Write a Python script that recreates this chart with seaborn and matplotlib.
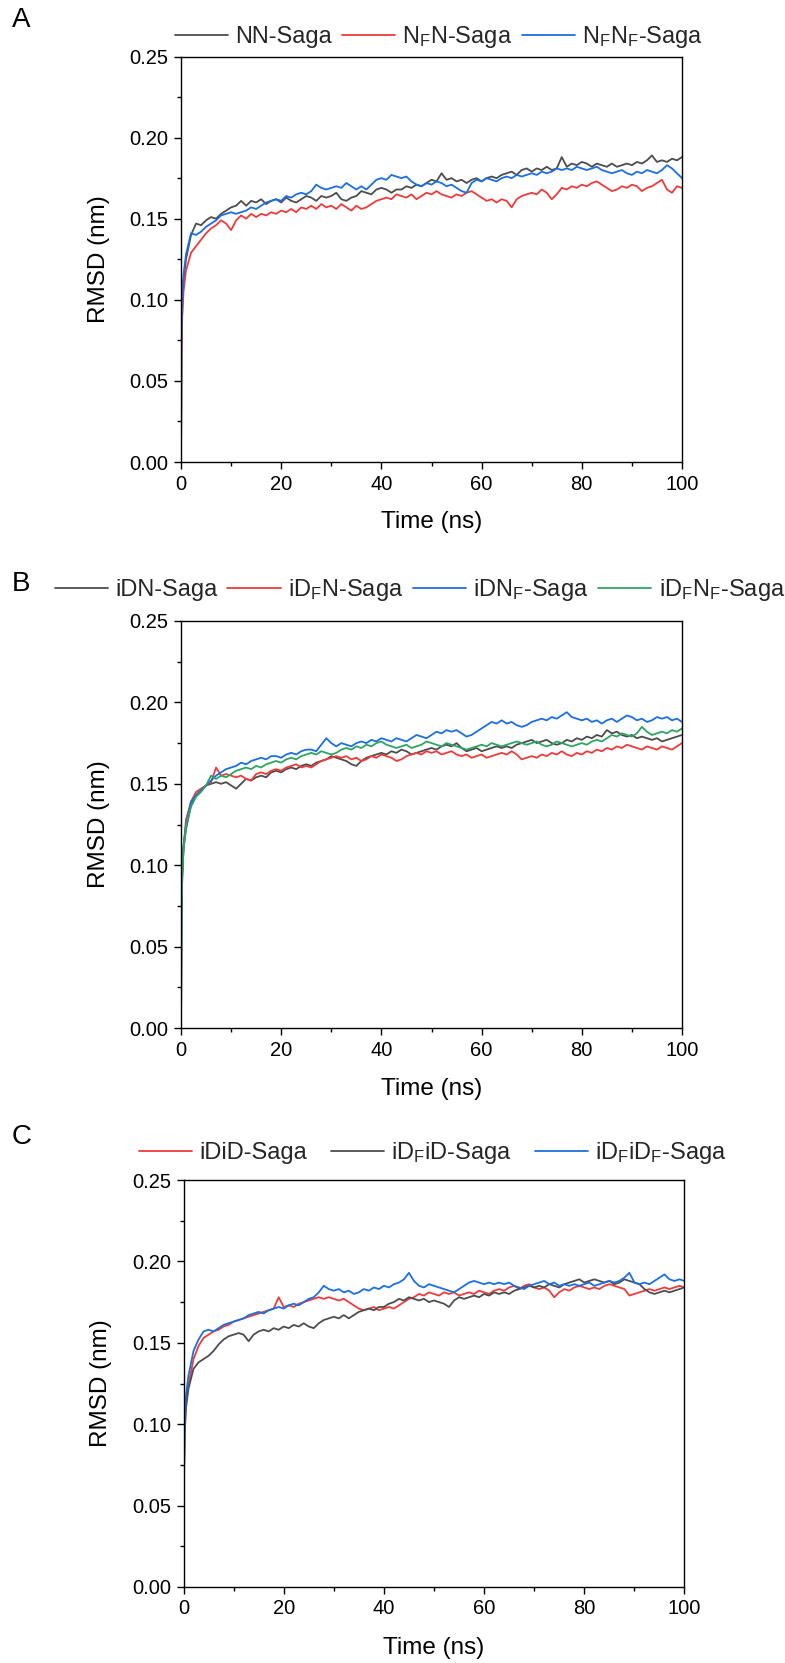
import matplotlib
matplotlib.use("Agg")
import matplotlib.pyplot as plt
import seaborn as sns
import numpy as np

sns.set_theme(style="ticks")
plt.rcParams['font.family'] = ['Liberation Sans', 'DejaVu Sans']
plt.rcParams['mathtext.fontset'] = 'custom'
plt.rcParams['mathtext.rm'] = 'Liberation Sans'
plt.rcParams['mathtext.it'] = 'Liberation Sans:italic'
plt.rcParams['mathtext.bf'] = 'Liberation Sans:bold'

# ---------------- data ----------------
TIME = [0, 0.1, 0.25, 0.5] + list(range(1, 101))

A_NN = [0, 0.070, 0.095, 0.112,
        0.125, 0.140, 0.147, 0.146, 0.149, 0.151, 0.150, 0.153, 0.155, 0.157,
        0.158, 0.161, 0.158, 0.161, 0.160, 0.162, 0.159, 0.161, 0.162, 0.160,
        0.163, 0.161, 0.160, 0.162, 0.164, 0.163, 0.161, 0.164, 0.163, 0.164,
        0.166, 0.162, 0.161, 0.163, 0.164, 0.167, 0.166, 0.165, 0.168, 0.169,
        0.168, 0.166, 0.168, 0.168, 0.170, 0.169, 0.171, 0.170, 0.172, 0.174,
        0.173, 0.178, 0.174, 0.175, 0.173, 0.174, 0.172, 0.174, 0.175, 0.173,
        0.175, 0.176, 0.175, 0.177, 0.178, 0.179, 0.177, 0.180, 0.181, 0.179,
        0.181, 0.180, 0.182, 0.180, 0.181, 0.188, 0.182, 0.184, 0.183, 0.185,
        0.184, 0.182, 0.184, 0.183, 0.182, 0.184, 0.182, 0.183, 0.184, 0.183,
        0.185, 0.184, 0.186, 0.189, 0.185, 0.186, 0.185, 0.187, 0.186, 0.188]
A_NFN = [0, 0.065, 0.090, 0.105,
         0.118, 0.129, 0.133, 0.137, 0.141, 0.144, 0.146, 0.149, 0.147, 0.143,
         0.149, 0.152, 0.150, 0.153, 0.151, 0.153, 0.152, 0.154, 0.153, 0.155,
         0.154, 0.156, 0.154, 0.157, 0.156, 0.158, 0.156, 0.159, 0.157, 0.158,
         0.156, 0.159, 0.157, 0.155, 0.158, 0.156, 0.157, 0.159, 0.161, 0.162,
         0.163, 0.162, 0.165, 0.164, 0.163, 0.165, 0.162, 0.164, 0.166, 0.165,
         0.167, 0.165, 0.164, 0.163, 0.165, 0.164, 0.166, 0.167, 0.165, 0.163,
         0.161, 0.162, 0.160, 0.162, 0.161, 0.157, 0.162, 0.164, 0.165, 0.166,
         0.165, 0.168, 0.166, 0.162, 0.165, 0.169, 0.168, 0.170, 0.169, 0.171,
         0.170, 0.172, 0.173, 0.171, 0.169, 0.167, 0.168, 0.170, 0.169, 0.171,
         0.170, 0.167, 0.169, 0.170, 0.172, 0.174, 0.168, 0.166, 0.170, 0.169]
A_NFNF = [0, 0.075, 0.100, 0.115,
          0.128, 0.141, 0.140, 0.142, 0.145, 0.147, 0.149, 0.152, 0.153, 0.154,
          0.153, 0.154, 0.155, 0.157, 0.156, 0.158, 0.160, 0.161, 0.162, 0.161,
          0.164, 0.163, 0.165, 0.166, 0.165, 0.167, 0.171, 0.169, 0.168, 0.169,
          0.170, 0.169, 0.172, 0.170, 0.168, 0.170, 0.168, 0.171, 0.174, 0.175,
          0.174, 0.177, 0.176, 0.175, 0.176, 0.173, 0.171, 0.170, 0.172, 0.171,
          0.173, 0.172, 0.170, 0.171, 0.169, 0.167, 0.166, 0.172, 0.174, 0.173,
          0.175, 0.174, 0.173, 0.175, 0.176, 0.175, 0.177, 0.176, 0.177, 0.178,
          0.177, 0.179, 0.178, 0.179, 0.181, 0.180, 0.181, 0.180, 0.182, 0.181,
          0.180, 0.181, 0.182, 0.180, 0.179, 0.178, 0.179, 0.180, 0.178, 0.177,
          0.179, 0.178, 0.180, 0.179, 0.178, 0.180, 0.183, 0.181, 0.178, 0.175]

B_iDN = [0, 0.070, 0.095, 0.110,
         0.122, 0.137, 0.143, 0.146, 0.149, 0.150, 0.151, 0.150, 0.151, 0.149,
         0.147, 0.150, 0.153, 0.152, 0.154, 0.155, 0.154, 0.157, 0.158, 0.157,
         0.159, 0.160, 0.159, 0.161, 0.162, 0.161, 0.163, 0.164, 0.165, 0.167,
         0.166, 0.165, 0.164, 0.162, 0.161, 0.164, 0.166, 0.167, 0.168, 0.169,
         0.168, 0.170, 0.169, 0.171, 0.170, 0.168, 0.169, 0.170, 0.171, 0.172,
         0.171, 0.173, 0.174, 0.173, 0.175, 0.172, 0.170, 0.171, 0.172, 0.170,
         0.171, 0.172, 0.173, 0.172, 0.173, 0.172, 0.174, 0.175, 0.176, 0.177,
         0.175, 0.176, 0.177, 0.175, 0.174, 0.175, 0.177, 0.176, 0.178, 0.177,
         0.179, 0.178, 0.180, 0.179, 0.183, 0.181, 0.182, 0.180, 0.179, 0.180,
         0.178, 0.179, 0.178, 0.177, 0.178, 0.176, 0.177, 0.178, 0.179, 0.180]
B_iDFN = [0, 0.068, 0.093, 0.110,
          0.128, 0.139, 0.145, 0.147, 0.149, 0.151, 0.160, 0.155, 0.156, 0.155,
          0.154, 0.155, 0.153, 0.152, 0.156, 0.157, 0.156, 0.158, 0.159, 0.158,
          0.160, 0.161, 0.162, 0.160, 0.161, 0.160, 0.162, 0.164, 0.165, 0.166,
          0.167, 0.166, 0.167, 0.165, 0.166, 0.164, 0.165, 0.167, 0.166, 0.168,
          0.167, 0.166, 0.164, 0.165, 0.167, 0.168, 0.169, 0.168, 0.170, 0.169,
          0.170, 0.168, 0.169, 0.170, 0.168, 0.167, 0.168, 0.166, 0.167, 0.168,
          0.166, 0.167, 0.168, 0.169, 0.168, 0.170, 0.168, 0.165, 0.166, 0.167,
          0.166, 0.168, 0.167, 0.169, 0.168, 0.170, 0.168, 0.167, 0.169, 0.168,
          0.170, 0.169, 0.171, 0.170, 0.172, 0.171, 0.173, 0.172, 0.174, 0.173,
          0.172, 0.171, 0.173, 0.172, 0.171, 0.173, 0.172, 0.171, 0.173, 0.175]
B_iDNF = [0, 0.070, 0.095, 0.112,
          0.125, 0.139, 0.143, 0.146, 0.149, 0.152, 0.155, 0.157, 0.159, 0.160,
          0.161, 0.163, 0.162, 0.164, 0.165, 0.166, 0.165, 0.167, 0.167, 0.166,
          0.168, 0.169, 0.168, 0.170, 0.171, 0.171, 0.170, 0.174, 0.178, 0.175,
          0.173, 0.175, 0.174, 0.173, 0.175, 0.176, 0.175, 0.177, 0.176, 0.178,
          0.177, 0.176, 0.178, 0.177, 0.176, 0.178, 0.180, 0.179, 0.178, 0.180,
          0.182, 0.181, 0.183, 0.182, 0.183, 0.181, 0.179, 0.180, 0.182, 0.184,
          0.186, 0.188, 0.187, 0.189, 0.187, 0.188, 0.186, 0.185, 0.186, 0.188,
          0.189, 0.190, 0.189, 0.191, 0.190, 0.192, 0.194, 0.191, 0.190, 0.189,
          0.190, 0.188, 0.189, 0.187, 0.189, 0.190, 0.188, 0.190, 0.192, 0.191,
          0.189, 0.190, 0.188, 0.189, 0.191, 0.190, 0.191, 0.189, 0.190, 0.188]
B_iDFNF = [0, 0.070, 0.094, 0.110,
           0.124, 0.136, 0.142, 0.145, 0.149, 0.155, 0.153, 0.155, 0.154, 0.156,
           0.158, 0.159, 0.160, 0.159, 0.161, 0.160, 0.162, 0.163, 0.164, 0.163,
           0.165, 0.166, 0.165, 0.167, 0.168, 0.169, 0.168, 0.170, 0.169, 0.168,
           0.169, 0.171, 0.172, 0.171, 0.173, 0.172, 0.174, 0.173, 0.175, 0.176,
           0.174, 0.173, 0.172, 0.173, 0.174, 0.172, 0.173, 0.174, 0.176, 0.175,
           0.174, 0.173, 0.175, 0.174, 0.173, 0.172, 0.171, 0.172, 0.173, 0.174,
           0.173, 0.175, 0.174, 0.173, 0.174, 0.175, 0.176, 0.175, 0.174, 0.175,
           0.176, 0.174, 0.173, 0.174, 0.176, 0.175, 0.174, 0.173, 0.174, 0.175,
           0.174, 0.176, 0.177, 0.176, 0.178, 0.180, 0.179, 0.181, 0.180, 0.179,
           0.181, 0.185, 0.182, 0.180, 0.181, 0.182, 0.181, 0.183, 0.182, 0.184]

C_iDiD = [0, 0.070, 0.100, 0.113,
          0.124, 0.140, 0.148, 0.153, 0.155, 0.157, 0.158, 0.160, 0.161, 0.163,
          0.164, 0.165, 0.166, 0.167, 0.168, 0.169, 0.170, 0.171, 0.178, 0.172,
          0.173, 0.172, 0.174, 0.175, 0.176, 0.177, 0.178, 0.177, 0.178, 0.177,
          0.176, 0.177, 0.175, 0.173, 0.171, 0.170, 0.171, 0.172, 0.170, 0.171,
          0.172, 0.171, 0.173, 0.175, 0.177, 0.178, 0.180, 0.179, 0.181, 0.180,
          0.179, 0.181, 0.180, 0.181, 0.179, 0.180, 0.181, 0.180, 0.182, 0.181,
          0.180, 0.182, 0.183, 0.182, 0.184, 0.185, 0.183, 0.185, 0.186, 0.184,
          0.183, 0.184, 0.182, 0.178, 0.181, 0.183, 0.182, 0.184, 0.185, 0.184,
          0.183, 0.184, 0.183, 0.185, 0.186, 0.185, 0.184, 0.183, 0.179, 0.180,
          0.181, 0.182, 0.183, 0.182, 0.183, 0.184, 0.183, 0.184, 0.185, 0.184]
C_iDFiD = [0, 0.065, 0.095, 0.110,
           0.122, 0.134, 0.138, 0.140, 0.142, 0.145, 0.149, 0.152, 0.154, 0.155,
           0.156, 0.155, 0.151, 0.155, 0.157, 0.158, 0.157, 0.159, 0.158, 0.160,
           0.159, 0.161, 0.160, 0.162, 0.160, 0.159, 0.162, 0.164, 0.165, 0.166,
           0.165, 0.167, 0.165, 0.167, 0.169, 0.170, 0.171, 0.170, 0.172, 0.172,
           0.174, 0.175, 0.177, 0.176, 0.178, 0.177, 0.176, 0.177, 0.175, 0.176,
           0.175, 0.174, 0.172, 0.176, 0.178, 0.177, 0.178, 0.179, 0.178, 0.180,
           0.179, 0.181, 0.180, 0.181, 0.180, 0.182, 0.183, 0.184, 0.185, 0.184,
           0.185, 0.184, 0.186, 0.185, 0.184, 0.186, 0.187, 0.188, 0.189, 0.187,
           0.188, 0.189, 0.188, 0.187, 0.188, 0.186, 0.187, 0.189, 0.188, 0.187,
           0.186, 0.183, 0.181, 0.180, 0.181, 0.182, 0.181, 0.182, 0.183, 0.184]
C_iDFiDF = [0, 0.075, 0.105, 0.118,
            0.130, 0.145, 0.152, 0.157, 0.158, 0.157, 0.159, 0.161, 0.162, 0.163,
            0.164, 0.165, 0.167, 0.168, 0.169, 0.168, 0.170, 0.171, 0.172, 0.171,
            0.173, 0.174, 0.173, 0.175, 0.177, 0.178, 0.181, 0.185, 0.183, 0.182,
            0.183, 0.181, 0.182, 0.180, 0.181, 0.183, 0.182, 0.184, 0.183, 0.185,
            0.184, 0.186, 0.187, 0.189, 0.193, 0.188, 0.185, 0.184, 0.186, 0.185,
            0.184, 0.183, 0.182, 0.181, 0.183, 0.185, 0.187, 0.188, 0.187, 0.186,
            0.187, 0.186, 0.187, 0.186, 0.187, 0.185, 0.184, 0.183, 0.185, 0.186,
            0.187, 0.188, 0.186, 0.187, 0.185, 0.186, 0.185, 0.186, 0.185, 0.186,
            0.187, 0.185, 0.186, 0.187, 0.188, 0.187, 0.188, 0.190, 0.193, 0.187,
            0.186, 0.187, 0.186, 0.188, 0.190, 0.192, 0.189, 0.188, 0.189, 0.188]

BLACK = '#4d4d4d'
RED = '#ef3a3c'
BLUE = '#1b6fe0'
GREEN = '#2ea463'

PANELS = [
    ("A", [(A_NN, "NN-Saga", BLACK),
           (A_NFN, r"N$_\mathregular{F}$N-Saga", RED),
           (A_NFNF, r"N$_\mathregular{F}$N$_\mathregular{F}$-Saga", BLUE)]),
    ("B", [(B_iDN, "iDN-Saga", BLACK),
           (B_iDFN, r"iD$_\mathregular{F}$N-Saga", RED),
           (B_iDNF, r"iDN$_\mathregular{F}$-Saga", BLUE),
           (B_iDFNF, r"iD$_\mathregular{F}$N$_\mathregular{F}$-Saga", GREEN)]),
    ("C", [(C_iDiD, "iDiD-Saga", RED),
           (C_iDFiD, r"iD$_\mathregular{F}$iD-Saga", BLACK),
           (C_iDFiDF, r"iD$_\mathregular{F}$iD$_\mathregular{F}$-Saga", BLUE)]),
]

W, H = 785, 1663
fig = plt.figure(figsize=(W / 100, H / 100), dpi=100)

# axes boxes in pixels: left, top, right, bottom
boxes = [(181, 56.5, 682, 462), (181, 621, 682, 1028), (183.5, 1180, 684.5, 1587)]
legend_pos = [(175, 37, 0.42), (55, 590, 0.42), (139, 1153, 1.0)]
letter_pos = [(12, 20), (12, 584), (12, 1137)]

for (letter, series), (l, t, r, b), (lx, ly, csp), (px, py) in zip(PANELS, boxes, legend_pos, letter_pos):
    ax = fig.add_axes([l / W, 1 - b / H, (r - l) / W, (b - t) / H])
    for vals, name, col in series:
        sns.lineplot(x=TIME, y=vals, ax=ax, color=col, linewidth=1.3,
                     label=name, estimator=None, sort=False)
    ax.set_xlim(0, 100)
    ax.set_ylim(0, 0.25)
    ax.set_xticks([0, 20, 40, 60, 80, 100])
    ax.set_xticks([10, 30, 50, 70, 90], minor=True)
    ax.set_yticks([0, 0.05, 0.10, 0.15, 0.20, 0.25])
    ax.set_yticks([0.025, 0.075, 0.125, 0.175, 0.225], minor=True)
    ax.set_yticklabels([f"{v:.2f}" for v in [0, 0.05, 0.10, 0.15, 0.20, 0.25]])
    ax.tick_params(axis='both', which='major', direction='out', length=5,
                   width=1.0, color='black', labelsize=14.5, pad=4,
                   labelcolor='black')
    ax.tick_params(axis='both', which='minor', direction='out', length=2.6,
                   width=1.0, color='black')
    ax.tick_params(top=False, right=False, which='both')
    for sp in ax.spines.values():
        sp.set_visible(True)
        sp.set_color('black')
        sp.set_linewidth(1.0)
    ax.set_xlabel("Time (ns)", fontsize=17.5, color='black')
    ax.set_ylabel("RMSD (nm)", fontsize=17.5, color='black')
    ax.xaxis.set_label_coords(0.5, -0.122)
    ax.yaxis.set_label_coords(-0.142, 0.5)
    handles, labels = ax.get_legend_handles_labels()
    ax.get_legend().remove()
    fig.legend(handles, labels, loc='center left',
               bbox_to_anchor=(lx / W, 1 - ly / H), ncol=len(labels),
               frameon=False, fontsize=17, handlelength=2.25,
               handletextpad=0.3, columnspacing=csp, borderpad=0,
               borderaxespad=0)
    fig.text(px / W, 1 - py / H, letter, fontsize=20, ha='left', va='center',
             color='black')

fig.savefig("out.png", dpi=100, facecolor='white')
